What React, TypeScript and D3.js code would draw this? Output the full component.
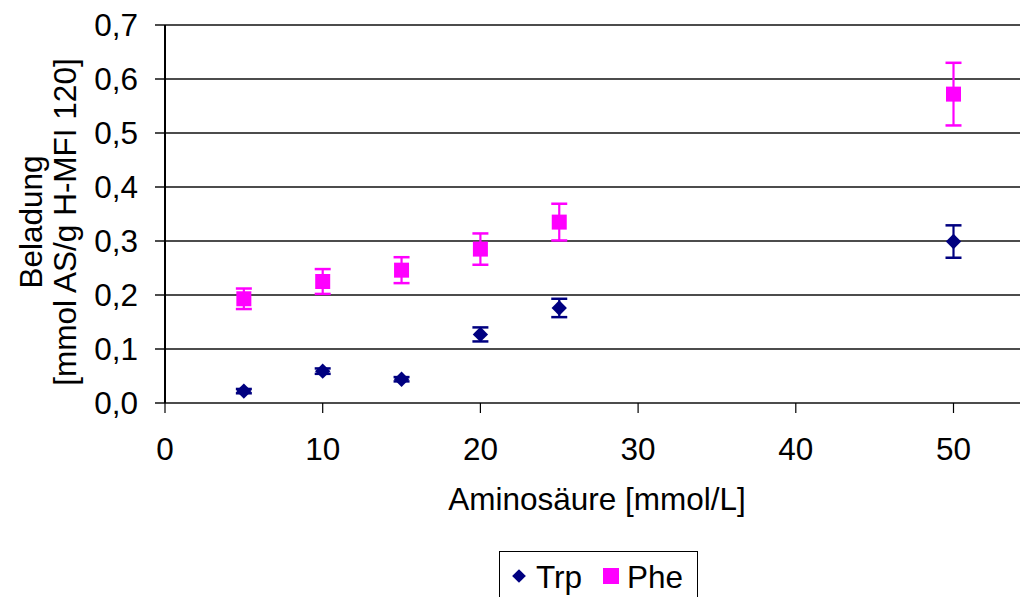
import React from "react";
import * as d3 from "d3";

const concentrations = [5, 10, 15, 20, 25, 50];
const trpValues = [0.022, 0.059, 0.044, 0.127, 0.176, 0.299];
const trpErrors = [0.004, 0.005, 0.004, 0.013, 0.017, 0.03];
const pheValues = [0.193, 0.225, 0.246, 0.285, 0.335, 0.572];
const pheErrors = [0.019, 0.023, 0.024, 0.029, 0.034, 0.058];
const xTicks = [0, 10, 20, 30, 40, 50];
const yTicks = [0, 0.1, 0.2, 0.3, 0.4, 0.5, 0.6, 0.7];
const seriesNames = ["Trp", "Phe"];
const seriesColors = ["#000080", "#FF00FF"];

const W = 1020;
const H = 597;
const FONT = "'Liberation Sans', Arial, sans-serif";
const FS = 31.5;

export default function App() {
  const x = d3.scaleLinear().domain([0, 55]).range([165, 165 + 55 * 15.77]);
  const y = d3.scaleLinear().domain([0, 0.7]).range([403, 25]);
  const fmt = (v: number) => d3.format(".1f")(v).replace(".", ",");
  const diamond = d3.symbol().type(d3.symbolDiamond2).size(150)();
  const square = d3.symbol().type(d3.symbolSquare).size(225)();

  const series = [
    { vals: trpValues, errs: trpErrors, color: seriesColors[0], path: diamond },
    { vals: pheValues, errs: pheErrors, color: seriesColors[1], path: square },
  ];

  return (
    <svg
      width={W}
      height={H}
      style={{ position: "absolute", left: 0, top: 0, background: "#fff" }}
      fontFamily={FONT}
    >
      <rect x={0} y={0} width={W} height={H} fill="#fff" />
      {yTicks.map((t) => (
        <g key={t}>
          <line x1={155} x2={x(55)} y1={y(t)} y2={y(t)} stroke="#111" strokeWidth={t === 0 ? 1.5 : 1.3} />
          <text x={138} y={y(t) + 11} textAnchor="end" fontSize={FS} fill="#000">
            {fmt(t)}
          </text>
        </g>
      ))}
      <line x1={165} x2={165} y1={y(0.7)} y2={y(0)} stroke="#000" strokeWidth={2} />
      {xTicks.map((t) => (
        <g key={t}>
          <line x1={x(t)} x2={x(t)} y1={403} y2={413} stroke="#000" strokeWidth={1.2} />
          <text x={x(t)} y={460} textAnchor="middle" fontSize={FS} fill="#000">
            {t}
          </text>
        </g>
      ))}
      <text x={597} y={510} textAnchor="middle" fontSize={FS} fill="#000">
        Aminosäure [mmol/L]
      </text>
      <g transform="translate(42,222) rotate(-90)">
        <text x={0} y={0} textAnchor="middle" fontSize={FS} fill="#000">
          Beladung
        </text>
        <text x={0} y={34} textAnchor="middle" fontSize={FS} fill="#000">
          [mmol AS/g H-MFI 120]
        </text>
      </g>
      {series.map((s, si) => (
        <g key={si}>
          {concentrations.map((c, i) => {
            const cx = x(c);
            const lo = y(s.vals[i] - s.errs[i]);
            const hi = y(s.vals[i] + s.errs[i]);
            return (
              <g key={i}>
                <line x1={cx} x2={cx} y1={lo} y2={hi} stroke={s.color} strokeWidth={2.2} />
                <line x1={cx - 8} x2={cx + 8} y1={lo} y2={lo} stroke={s.color} strokeWidth={2.5} />
                <line x1={cx - 8} x2={cx + 8} y1={hi} y2={hi} stroke={s.color} strokeWidth={2.5} />
                <path d={s.path as string} transform={`translate(${cx},${y(s.vals[i])})`} fill={s.color} />
              </g>
            );
          })}
        </g>
      ))}
      <rect x={499.5} y={551.5} width={198} height={60} fill="#fff" stroke="#000" strokeWidth={1} />
      <path d={d3.symbol().type(d3.symbolDiamond2).size(120)() as string} transform="translate(519,576)" fill={seriesColors[0]} />
      <text x={536} y={588} fontSize={FS} fill="#000">
        {seriesNames[0]}
      </text>
      <rect x={603} y={568} width={16} height={16} fill={seriesColors[1]} />
      <text x={627} y={588} fontSize={FS} fill="#000">
        {seriesNames[1]}
      </text>
    </svg>
  );
}
